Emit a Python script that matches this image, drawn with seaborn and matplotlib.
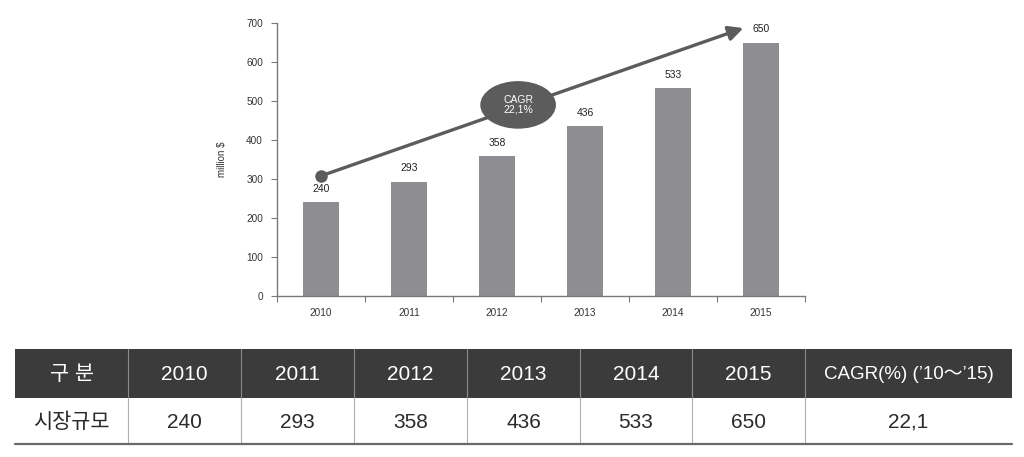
import matplotlib
matplotlib.use("Agg")
import matplotlib.pyplot as plt
from matplotlib.patches import Ellipse, Rectangle
import seaborn as sns
import pandas as pd

# ---- data ----
years = ["2010", "2011", "2012", "2013", "2014", "2015"]
market_size = [240, 293, 358, 436, 533, 650]
cagr_pct = "22,1"
y_ticks = [0, 100, 200, 300, 400, 500, 600, 700]
y_label = "million $"
table_header_first = "구 분"
table_row_label = "시장규모"
table_cagr_header = "CAGR(%) (’10～’15)"

sns.set_theme(style="white")
plt.rcParams["font.family"] = ["Liberation Sans", "Noto Sans CJK KR", "DejaVu Sans"]

fig = plt.figure(figsize=(10.24, 4.57), dpi=100)
W, H = 1024, 457

# ---- chart ----
ax = fig.add_axes([277 / W, 1 - 296 / H, 528 / W, 273 / H])
df = pd.DataFrame({"year": years, "value": market_size})
sns.barplot(data=df, x="year", y="value", color="#8e8e92", saturation=1,
            width=0.41, ax=ax, edgecolor="none")
ax.set_xlim(-0.5, len(years) - 0.5)
ax.set_ylim(0, 700)
ax.set_yticks(y_ticks)
ax.set_xlabel("")
ax.set_ylabel(y_label, fontsize=7, color="#333333", labelpad=14)
for s in ["top", "right"]:
    ax.spines[s].set_visible(False)
for s in ["left", "bottom"]:
    ax.spines[s].set_color("#7a7a7a")
    ax.spines[s].set_linewidth(1.0)
ax.tick_params(axis="y", which="major", length=4, width=0.8, color="#7a7a7a",
               labelsize=7.2, labelcolor="#333333", pad=6, left=True)
ax.tick_params(axis="x", which="major", length=0, labelsize=7.2,
               labelcolor="#333333", pad=9)
ax.set_xticks([i - 0.5 for i in range(len(years) + 1)], minor=True)
ax.tick_params(axis="x", which="minor", length=4, width=0.8, color="#7a7a7a",
               direction="out", bottom=True)
ax.bar_label(ax.containers[0], labels=[str(v) for v in market_size],
             padding=6, fontsize=7.5, color="#222222")

# CAGR arrow (annotation)
arrow_start = (0, 308)
arrow_end = (4.8, 687)
ax.annotate("", xy=arrow_end, xytext=arrow_start,
            arrowprops=dict(arrowstyle="-|>", lw=2.4, color="#5c5c5c",
                            mutation_scale=22, shrinkA=0, shrinkB=0),
            annotation_clip=False)
ax.plot([arrow_start[0]], [arrow_start[1]], "o", ms=8, color="#5c5c5c",
        clip_on=False, zorder=5)
ell = Ellipse((2.24, 490), width=0.86, height=122, facecolor="#5c5c5c",
              edgecolor="none", zorder=6)
ax.add_patch(ell)
ax.text(2.24, 490, f"CAGR\n{cagr_pct}%", ha="center", va="center",
        color="white", fontsize=7.5, zorder=7, linespacing=1.0)

# ---- table ----
tx0, tx1 = 15, 1012
ty_top, ty_mid, ty_bot = 349, 398, 444
tab = fig.add_axes([0, 0, 1, 1])
tab.set_xlim(0, W)
tab.set_ylim(H, 0)
tab.axis("off")
col_edges = [15, 128, 241, 354, 467, 580, 692, 805, 1012]
header = [table_header_first] + years + [table_cagr_header]
row = [table_row_label] + [str(v) for v in market_size] + [cagr_pct]

tab.add_patch(Rectangle((tx0, ty_top), tx1 - tx0, ty_mid - ty_top,
                        facecolor="#3b3b3b", edgecolor="none"))
for e in col_edges[1:-1]:
    tab.plot([e, e], [ty_top, ty_mid], color="#8a8a8a", lw=0.8)
    tab.plot([e, e], [ty_mid, ty_bot], color="#b0b0b0", lw=0.8)
tab.plot([tx0, tx1], [ty_bot, ty_bot], color="#6a6a6a", lw=1.6)
for i in range(len(header)):
    cx = (col_edges[i] + col_edges[i + 1]) / 2
    fs = 13.5 if i == len(header) - 1 else 15
    tab.text(cx, (ty_top + ty_mid) / 2 + 1, header[i], ha="center", va="center",
             color="white", fontsize=fs)
    tab.text(cx, (ty_mid + ty_bot) / 2 + 1, row[i], ha="center", va="center",
             color="#2a2a2a", fontsize=15)

fig.savefig("out.png", dpi=100)
